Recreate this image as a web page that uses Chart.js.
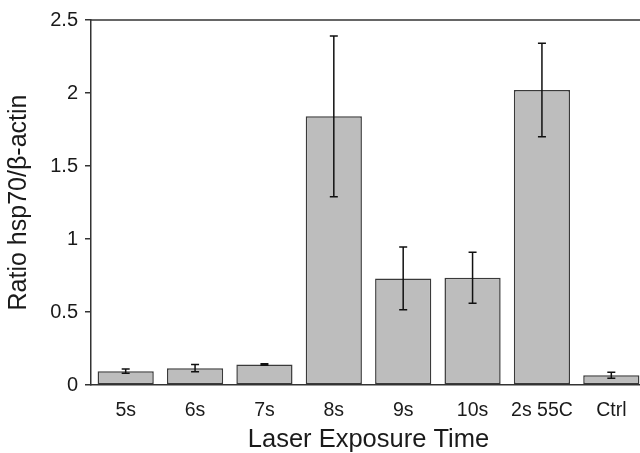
<!DOCTYPE html>
<html>
<head>
<meta charset="utf-8">
<script src="https://cdn.jsdelivr.net/npm/chart.js@4/dist/chart.umd.min.js"></script>
<style>
    html, body { margin: 0; padding: 0; background: #fff; overflow: hidden; }
    #wrap { width: 646px; height: 453px; }
</style>
</head>
<body>
<div id="wrap"><canvas id="hspChart"></canvas></div>
<script>
// Data
const categories = ['5s', '6s', '7s', '8s', '9s', '10s', '2s 55C', 'Ctrl'];
const ratioValues = [0.095, 0.115, 0.14, 1.84, 0.73, 0.735, 2.02, 0.067];
const ratioErrors = [0.015, 0.025, 0.005, 0.55, 0.215, 0.175, 0.32, 0.02];
const yTicks = [0, 0.5, 1, 1.5, 2, 2.5];

const FONT = '"Liberation Sans", Arial, sans-serif';
const INK = '#1a1a1a';

// Error bars drawn from the y scale
const errorBars = {
    id: 'errorBars',
    afterDatasetsDraw(chart) {
        const ctx = chart.ctx;
        const y = chart.scales.y;
        const meta = chart.getDatasetMeta(0);
        ctx.save();
        ctx.strokeStyle = '#111';
        ctx.lineWidth = 1.5;
        meta.data.forEach((bar, i) => {
            const top = y.getPixelForValue(ratioValues[i] + ratioErrors[i]);
            const bot = y.getPixelForValue(ratioValues[i] - ratioErrors[i]);
            const cap = 4;
            ctx.beginPath();
            ctx.moveTo(bar.x, top);
            ctx.lineTo(bar.x, bot);
            ctx.moveTo(bar.x - cap, top);
            ctx.lineTo(bar.x + cap, top);
            ctx.moveTo(bar.x - cap, bot);
            ctx.lineTo(bar.x + cap, bot);
            ctx.stroke();
        });
        ctx.restore();
    }
};

// Top frame line
const frameTop = {
    id: 'frameTop',
    afterDraw(chart) {
        const a = chart.chartArea;
        const ctx = chart.ctx;
        ctx.save();
        ctx.strokeStyle = '#333';
        ctx.lineWidth = 1.5;
        ctx.beginPath();
        ctx.moveTo(a.left, a.top);
        ctx.lineTo(a.right, a.top);
        ctx.stroke();
        ctx.restore();
    }
};

new Chart(document.getElementById('hspChart'), {
    type: 'bar',
    data: {
        labels: categories,
        datasets: [{
            data: ratioValues,
            backgroundColor: '#bdbdbd',
            borderColor: '#3a3a3a',
            borderWidth: 1.5,
            borderSkipped: false,
            barPercentage: 0.81,
            categoryPercentage: 1
        }]
    },
    options: {
        responsive: true,
        maintainAspectRatio: false,
        animation: false,
        layout: { padding: { top: 20, left: 0, right: 0, bottom: 0 } },
        plugins: {
            legend: { display: false },
            tooltip: { enabled: false }
        },
        scales: {
            x: {
                grid: { display: false },
                border: { display: true, color: '#333', width: 1.5 },
                ticks: {
                    color: INK,
                    font: { family: FONT, size: 19.5 },
                    padding: 6,
                    maxRotation: 0
                },
                title: {
                    display: true,
                    text: 'Laser Exposure Time',
                    color: INK,
                    font: { family: FONT, size: 25.5, lineHeight: 1 },
                    padding: { top: 0, bottom: 0 }
                },
                afterFit(scale) { scale.height = 68; }
            },
            y: {
                min: 0,
                max: 2.5,
                afterBuildTicks(scale) {
                    scale.ticks = yTicks.map(v => ({ value: v }));
                },
                grid: {
                    display: true,
                    drawOnChartArea: false,
                    drawTicks: true,
                    tickLength: 6,
                    color: '#333',
                    lineWidth: 1.5
                },
                border: { display: true, color: '#333', width: 1.5 },
                ticks: {
                    color: INK,
                    font: { family: FONT, size: 20 },
                    padding: 7,
                    callback: (v) => String(v)
                },
                title: {
                    display: true,
                    text: 'Ratio hsp70/β-actin',
                    color: INK,
                    font: { family: FONT, size: 25 },
                    padding: { bottom: 4 }
                },
                afterFit(scale) { scale.width = 91; }
            }
        }
    },
    plugins: [errorBars, frameTop]
});
</script>
</body>
</html>
